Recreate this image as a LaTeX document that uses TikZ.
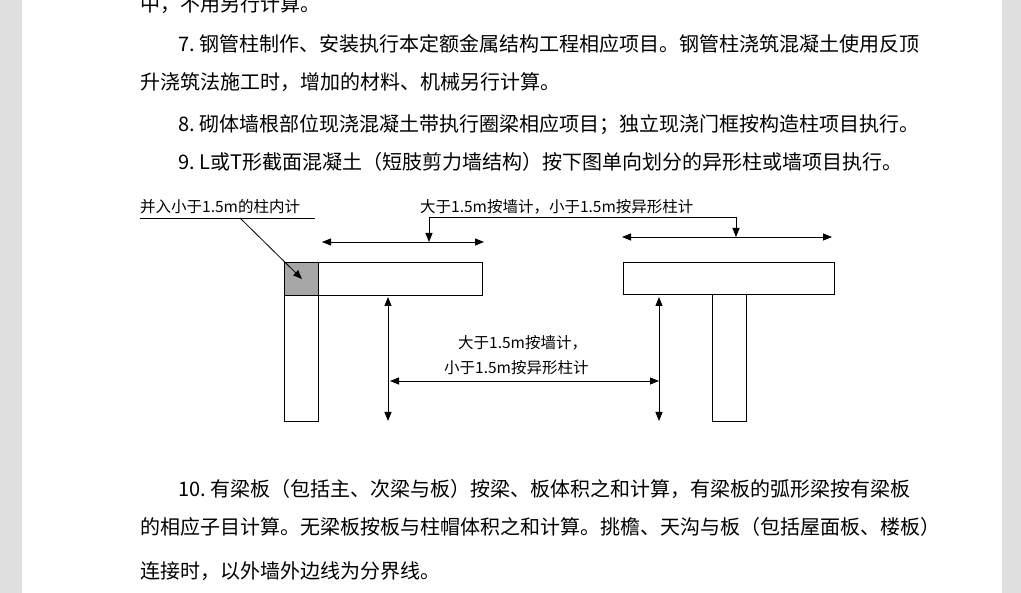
\documentclass[tikz,border=0pt]{standalone}
\usepackage{fontspec}
\setmainfont{Noto Sans CJK SC}
\usetikzlibrary{arrows.meta}
\tikzset{
  body/.style={anchor=base west,inner sep=0pt,font=\fontsize{20}{22}\selectfont},
  lbl/.style={anchor=base west,inner sep=0pt,font=\fontsize{15.5}{17}\selectfont},
  dim/.style={{Triangle[length=9pt,width=7pt]}-{Triangle[length=9pt,width=7pt]},thick},
  lead/.style={-{Triangle[length=9pt,width=7pt]},thick}
}
\begin{document}
\begin{tikzpicture}[x=1pt,y=-1pt]
  \useasboundingbox (0,0) rectangle (1021,593);
  \fill[gray!25] (0,0) rectangle (22,593);
  \fill[gray!25] (1002,0) rectangle (1021,593);
  \fill[white] (22,0) rectangle (1002,593);

  \node[body] (t1) at (140,12) {中，不用另行计算。};
  \node[body] (t2) at (178,52) {7.\ 钢管柱制作、安装执行本定额金属结构工程相应项目。钢管柱浇筑混凝土使用反顶};
  \node[body] (t3) at (140,90) {升浇筑法施工时，增加的材料、机械另行计算。};
  \node[body] (t4) at (178,132) {8.\ 砌体墙根部位现浇混凝土带执行圈梁相应项目；独立现浇门框按构造柱项目执行。};
  \node[body] (t5) at (178,170) {9.\ L或T形截面混凝土（短肢剪力墙结构）按下图单向划分的异形柱或墙项目执行。};
  \node[body] (t6) at (178,497) {10.\ 有梁板（包括主、次梁与板）按梁、板体积之和计算，有梁板的弧形梁按有梁板};
  \node[body] (t7) at (140,535) {的相应子目计算。无梁板按板与柱帽体积之和计算。挑檐、天沟与板（包括屋面板、楼板）};
  \node[body] (t8) at (140,579) {连接时，以外墙外边线为分界线。};

  % L section
  \draw[thick,fill=gray!70] (284,262) rectangle (318,295);
  \draw[thick] (318,262) rectangle (482,295);
  \draw[thick] (284,295) rectangle (318,421);
  % T section
  \draw[thick] (623,262) rectangle (834,294);
  \draw[thick] (712,294) rectangle (746,421);

  % labels
  \node[lbl] (la) at (140,213) {并入小于1.5m的柱内计};
  \draw (140,218) -- (315,218);
  \node[lbl] (lb) at (420,213) {大于1.5m按墙计，小于1.5m按异形柱计};
  \draw (429,217) -- (736,217);
  \coordinate (p1) at (240,218);
  \coordinate (p2) at (302,279);
  \draw[lead] (p1) -- (p2);

  % dimension arrows
  \draw[dim] (322,242) -- (484,242);
  \draw[lead] (429,217) -- (429,242);
  \draw[dim] (622,237) -- (832,237);
  \draw[lead] (736,217) -- (736,237);
  \draw[dim] (388,297) -- (388,421);
  \draw[dim] (659,297) -- (659,421);
  \draw[dim] (390,381) -- (659,381);
  \node[lbl] (lc) at (458,349) {大于1.5m按墙计，};
  \node[lbl] (ld) at (444,374) {小于1.5m按异形柱计};
\end{tikzpicture}
\end{document}
